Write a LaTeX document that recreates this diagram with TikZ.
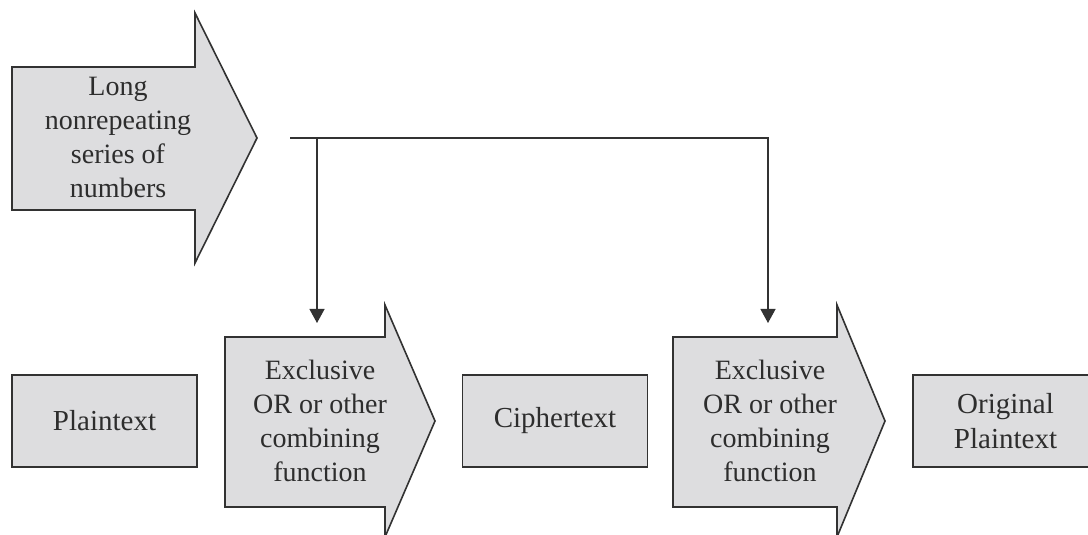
\documentclass[tikz,border=0pt]{standalone}
\usepackage{fontspec}
\setmainfont{Liberation Serif}
\usetikzlibrary{arrows.meta,positioning}
\definecolor{FillClr}{RGB}{221,221,223}
\definecolor{LineClr}{RGB}{50,50,50}
\definecolor{TextClr}{RGB}{45,45,45}

\begin{document}
\begin{tikzpicture}[x=1pt,y=1pt,
  fatarrow/.style={draw=LineClr,line width=1.6pt,fill=FillClr,line join=miter},
  box/.style={draw=LineClr,line width=1.6pt,fill=FillClr,minimum width=185pt,minimum height=92pt,inner sep=0pt,
    align=center,text=TextClr,font=\fontsize{29}{35}\selectfont},
  txt/.style={align=center,text=TextClr,inner sep=0pt,font=\fontsize{28}{34}\selectfont},
  conn/.style={draw=LineClr,line width=1.3pt}]
\useasboundingbox (0,0) rectangle (1088,535);

\draw[fatarrow] (12,468) -- (195,468) -- (195,522) -- (257,397) -- (195,272) -- (195,325) -- (12,325) -- cycle;
\draw[fatarrow] (225,198) -- (385,198) -- (385,230) -- (435,114) -- (385,-2) -- (385,28) -- (225,28) -- cycle;
\draw[fatarrow] (673,198) -- (837,198) -- (837,230) -- (885,114) -- (837,-2) -- (837,28) -- (673,28) -- cycle;

\node[txt] (keys) at (118,398) {Long\\nonrepeating\\series of\\numbers};
\node[txt] (xorA) at (320,114) {Exclusive\\OR or other\\combining\\function};
\node[txt] (xorB) at (770,114) {Exclusive\\OR or other\\combining\\function};

\node[box] (plain) at (104.5,114) {Plaintext};
\node[box] (cipher) at (555,114) {Ciphertext};
\node[box] (orig) at (1005.5,114) {Original\\Plaintext};

\coordinate (split) at (290,397);
\coordinate (inA) at (317,212);
\coordinate (inB) at (768,212);

\draw[conn,-{Triangle[width=15pt,length=14pt]}] (split) -| (inB);
\draw[conn,-{Triangle[width=15pt,length=14pt]}] (inA |- split) -- (inA);

\end{tikzpicture}
\end{document}
